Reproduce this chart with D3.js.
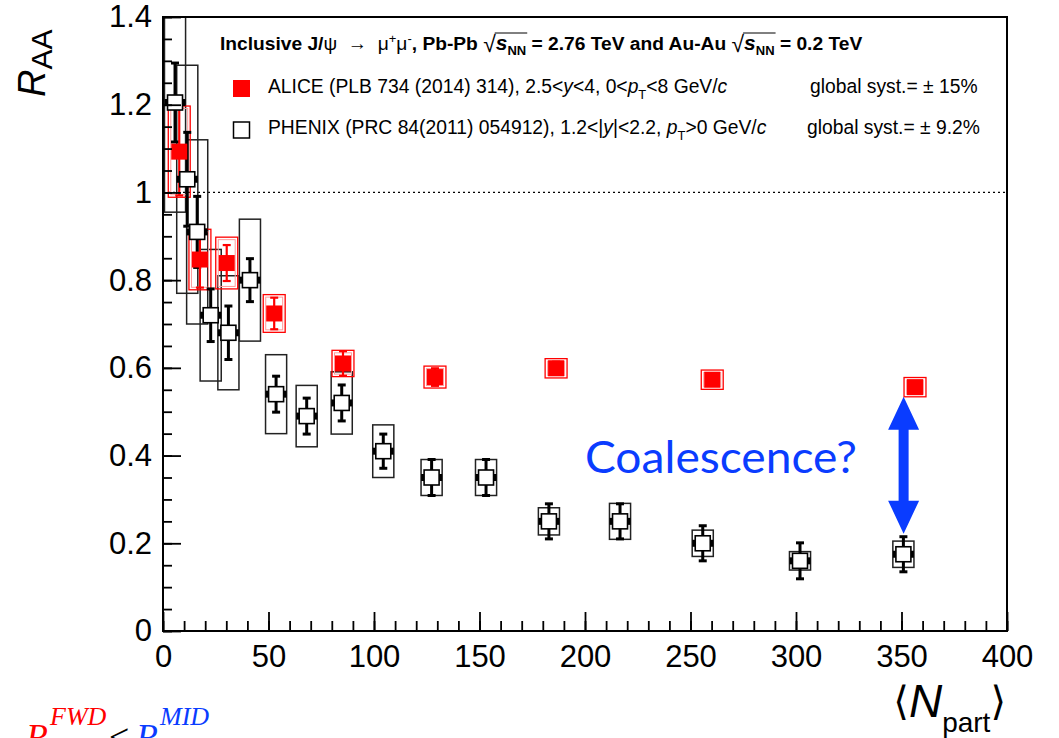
<!DOCTYPE html>
<html>
<head>
<meta charset="utf-8">
<script src="https://cdn.jsdelivr.net/npm/d3@7"></script>
<style>
  body { margin: 0; background: #fff; }
  text { white-space: pre; }
</style>
</head>
<body>
<svg id="chart" width="1059" height="738"></svg>
<script>
// ALICE, Pb-Pb 2.76 TeV, 2.5<y<4
const aliceNpart = [7.7, 17.5, 30.2, 52.7, 85.3, 128.9, 186.3, 260.3, 356.4];
const aliceRaa   = [1.093, 0.847, 0.839, 0.724, 0.610, 0.579, 0.599, 0.573, 0.556];
const aliceStat  = [0.100, 0.064, 0.041, 0.036, 0.028, 0.020, 0.015, 0.012, 0.012];
const aliceSyst  = [0.104, 0.069, 0.059, 0.043, 0.030, 0.025, 0.022, 0.022, 0.022];

// PHENIX, Au-Au 0.2 TeV, 1.2<|y|<2.2
const phenixNpart = [5.7, 11.5, 16.2, 22.6, 31.0, 41.2, 53.6, 68.1, 84.7, 104.4, 127.3, 153.1, 182.9, 216.6, 255.8, 301.9, 350.9];
const phenixRaa   = [1.205, 1.03, 0.91, 0.72, 0.68, 0.80, 0.54, 0.49, 0.52, 0.41, 0.35, 0.35, 0.25, 0.25, 0.20, 0.16, 0.175];
const phenixStat  = [0.09, 0.107, 0.081, 0.06, 0.061, 0.049, 0.041, 0.041, 0.041, 0.039, 0.041, 0.041, 0.04, 0.04, 0.04, 0.041, 0.04];
const phenixSyst  = [0.25, 0.26, 0.21, 0.15, 0.13, 0.139, 0.09, 0.07, 0.071, 0.06, 0.041, 0.041, 0.031, 0.041, 0.03, 0.021, 0.03];

const xTicks = [0, 50, 100, 150, 200, 250, 300, 350, 400];
const yTicks = [0, 0.2, 0.4, 0.6, 0.8, 1, 1.2, 1.4];

// annotation: gap between the two most central points
const arrowNpart = 351;
const arrowRange = [0.534, 0.222];

const svg = d3.select('#chart');
const pL = 163, pR = 1007, pT = 17, pB = 631;

const x = d3.scaleLinear().domain([0, 400]).range([pL, pR]);
const y = d3.scaleLinear().domain([0, 1.4]).range([pB, pT]);

const sans = '"Liberation Sans", Arial, Helvetica, sans-serif';
const RED = '#ff0000';
const BLUE = '#0a3cff';

// lay out a run of text pieces one after another
function richText(parent, x0, y0, parts, base) {
  let cx = x0;
  const pos = [];
  parts.forEach(p => {
    const el = parent.append('text')
      .attr('x', cx)
      .attr('y', y0 + (p.dy || 0))
      .attr('xml:space', 'preserve')
      .attr('font-family', p.family || base.family || sans)
      .attr('font-size', p.size || base.size)
      .attr('font-weight', p.weight || base.weight || 'normal')
      .attr('font-style', p.style || 'normal')
      .attr('fill', p.fill || base.fill || '#000')
      .text(p.t);
    const w = el.node().getComputedTextLength();
    pos.push({ x0: cx, x1: cx + w });
    cx += w + (p.kern || 0);
  });
  return pos;
}

svg.append('clipPath').attr('id', 'plot')
  .append('rect').attr('x', pL).attr('y', pT)
  .attr('width', pR - pL).attr('height', pB - pT);

// R = 1 reference
svg.append('line')
  .attr('x1', x(0)).attr('x2', x(400))
  .attr('y1', y(1)).attr('y2', y(1))
  .attr('stroke', '#000').attr('stroke-width', 1.2)
  .attr('stroke-dasharray', '2,3');

const plot = svg.append('g').attr('clip-path', 'url(#plot)');

const phenix = phenixNpart.map((n, i) => ({ n, r: phenixRaa[i], s: phenixStat[i], sy: phenixSyst[i] }));
const alice = aliceNpart.map((n, i) => ({ n, r: aliceRaa[i], s: aliceStat[i], sy: aliceSyst[i] }));

// PHENIX systematic boxes
plot.selectAll('rect.psys').data(phenix).enter().append('rect')
  .attr('class', 'psys')
  .attr('x', d => x(d.n - 5)).attr('width', d => x(d.n + 5) - x(d.n - 5))
  .attr('y', d => y(d.r + d.sy)).attr('height', d => y(d.r - d.sy) - y(d.r + d.sy))
  .attr('fill', 'none').attr('stroke', '#222').attr('stroke-width', 1.5);

// ALICE systematic boxes
plot.selectAll('rect.asys').data(alice).enter().append('rect')
  .attr('class', 'asys')
  .attr('x', d => x(d.n - 5.2)).attr('width', d => x(d.n + 5.2) - x(d.n - 5.2))
  .attr('y', d => y(d.r + d.sy)).attr('height', d => y(d.r - d.sy) - y(d.r + d.sy))
  .attr('fill', 'none').attr('stroke', RED).attr('stroke-width', 1.3);
plot.selectAll('rect.asys2').data(alice).enter().append('rect')
  .attr('class', 'asys2')
  .attr('x', d => x(d.n - 5.2) + 2.5).attr('width', d => x(d.n + 5.2) - x(d.n - 5.2) - 5)
  .attr('y', d => y(d.r + d.sy) + 2.5).attr('height', d => Math.max(1, y(d.r - d.sy) - y(d.r + d.sy) - 5))
  .attr('fill', 'none').attr('stroke', '#ff9a9a').attr('stroke-width', 1);

// error bars with caps
function errorBars(data, cls, color, sw, cap) {
  const g = plot.append('g').attr('class', cls);
  g.selectAll('line.bar').data(data).enter().append('line')
    .attr('x1', d => x(d.n)).attr('x2', d => x(d.n))
    .attr('y1', d => y(d.r + d.s)).attr('y2', d => y(d.r - d.s))
    .attr('stroke', color).attr('stroke-width', sw);
  g.selectAll('line.capt').data(data).enter().append('line')
    .attr('x1', d => x(d.n) - cap).attr('x2', d => x(d.n) + cap)
    .attr('y1', d => y(d.r + d.s)).attr('y2', d => y(d.r + d.s))
    .attr('stroke', color).attr('stroke-width', sw);
  g.selectAll('line.capb').data(data).enter().append('line')
    .attr('x1', d => x(d.n) - cap).attr('x2', d => x(d.n) + cap)
    .attr('y1', d => y(d.r - d.s)).attr('y2', d => y(d.r - d.s))
    .attr('stroke', color).attr('stroke-width', sw);
}
errorBars(phenix, 'perr', '#000', 3, 4);
errorBars(alice, 'aerr', RED, 2.2, 4);

// PHENIX open markers with small side ticks
const pm = 15;
plot.selectAll('rect.pside').data(phenix.flatMap(d => [{ d, s: -1 }, { d, s: 1 }])).enter().append('rect')
  .attr('class', 'pside')
  .attr('x', e => x(e.d.n) + e.s * (pm / 2 + 1.5) - 1.5).attr('width', 3)
  .attr('y', e => y(e.d.r) - 3.5).attr('height', 7)
  .attr('fill', '#000');
plot.selectAll('rect.pmark').data(phenix).enter().append('rect')
  .attr('class', 'pmark')
  .attr('x', d => x(d.n) - pm / 2).attr('y', d => y(d.r) - pm / 2)
  .attr('width', pm).attr('height', pm)
  .attr('fill', '#fff').attr('stroke', '#000').attr('stroke-width', 1.6);

// ALICE filled markers
const am = 16;
plot.selectAll('rect.amark').data(alice).enter().append('rect')
  .attr('class', 'amark')
  .attr('x', d => x(d.n) - am / 2).attr('y', d => y(d.r) - am / 2)
  .attr('width', am).attr('height', am)
  .attr('fill', RED);

// axes
const xAxis = svg.append('g').attr('transform', `translate(0,${pB})`)
  .call(d3.axisBottom(x).tickValues(xTicks).tickSizeInner(-19).tickSizeOuter(0).tickPadding(14).tickFormat(d3.format('d')));
const xMinor = svg.append('g').attr('transform', `translate(0,${pB})`)
  .call(d3.axisBottom(x).tickValues(d3.range(0, 401, 10)).tickSizeInner(-10).tickSizeOuter(0).tickFormat(''));
const yAxis = svg.append('g').attr('transform', `translate(${pL},0)`)
  .call(d3.axisLeft(y).tickValues(yTicks).tickSizeInner(-18).tickSizeOuter(0).tickPadding(11).tickFormat(d => String(+d.toFixed(1))));
const yMinor = svg.append('g').attr('transform', `translate(${pL},0)`)
  .call(d3.axisLeft(y).tickValues(d3.range(0, 29).map(i => i * 0.05)).tickSizeInner(-9).tickSizeOuter(0).tickFormat(''));

[xAxis, xMinor, yAxis, yMinor].forEach(a => {
  a.select('.domain').remove();
  a.selectAll('line').attr('stroke', '#000').attr('stroke-width', 1.8);
  a.selectAll('text').attr('font-family', sans).attr('font-size', 31).attr('fill', '#000');
});

// frame
svg.append('rect')
  .attr('x', pL).attr('y', pT).attr('width', pR - pL).attr('height', pB - pT)
  .attr('fill', 'none').attr('stroke', '#000').attr('stroke-width', 2);

// y title R_AA (rotated)
const yt = svg.append('g').attr('transform', 'translate(45,0) rotate(-90)');
richText(yt, -97, 0, [
  { t: 'R', size: 38, style: 'italic' },
  { t: 'AA', size: 30, dy: 7 }
], { size: 38 });

// x title <N_part>
const xt = svg.append('g');
const xtPos = richText(xt, 0, 717, [
  { t: '⟨', size: 40, family: '"DejaVu Sans", sans-serif', dy: -2 },
  { t: 'N', size: 46, style: 'italic' },
  { t: 'part', size: 28, dy: 15 },
  { t: '⟩', size: 40, family: '"DejaVu Sans", sans-serif', dy: -2 }
], { size: 46 });
xt.attr('transform', `translate(${1006 - xtPos[3].x1},0)`);

// header line
const hd = svg.append('g');
const hdBase = { size: 19.2, weight: 'bold' };
const hp = richText(hd, 220, 50, [
  { t: 'Inclusive J/' },
  { t: 'ψ', weight: 'normal' },
  { t: '  →  ', weight: 'normal' },
  { t: 'μ', weight: 'normal' },
  { t: '+', weight: 'normal', size: 13, dy: -7 },
  { t: 'μ', weight: 'normal' },
  { t: '-', weight: 'normal', size: 13, dy: -7 },
  { t: ', Pb-Pb ' },
  { t: '√', weight: 'normal', size: 23, dy: 2 },
  { t: 's', style: 'italic', size: 21 },
  { t: 'NN', size: 13, dy: 5 },
  { t: ' = 2.76 TeV and Au-Au ' },
  { t: '√', weight: 'normal', size: 23, dy: 2 },
  { t: 's', style: 'italic', size: 21 },
  { t: 'NN', size: 13, dy: 5 },
  { t: ' = 0.2 TeV' }
], hdBase);
[[8, 10], [12, 14]].forEach(([a, b]) => {
  hd.append('line')
    .attr('x1', hp[a].x1 - 1).attr('x2', hp[b].x1 + 1)
    .attr('y1', 33).attr('y2', 33)
    .attr('stroke', '#000').attr('stroke-width', 1);
});

// legend
const lg = svg.append('g');
lg.append('rect').attr('x', 233).attr('y', 80).attr('width', 17).attr('height', 17).attr('fill', RED);
lg.append('rect').attr('x', 233.5).attr('y', 122).attr('width', 16).attr('height', 16)
  .attr('fill', '#fff').attr('stroke', '#000').attr('stroke-width', 1.5);
const lgBase = { size: 19.3 };
richText(lg, 268, 93, [
  { t: 'ALICE (PLB 734 (2014) 314), 2.5<' },
  { t: 'y', style: 'italic' },
  { t: '<4, 0<' },
  { t: 'p', style: 'italic' },
  { t: 'T', size: 13, dy: 6 },
  { t: '<8 GeV/' },
  { t: 'c', style: 'italic' }
], lgBase);
richText(lg, 268, 134, [
  { t: 'PHENIX (PRC 84(2011) 054912), 1.2<|' },
  { t: 'y', style: 'italic' },
  { t: '|<2.2, ' },
  { t: 'p', style: 'italic' },
  { t: 'T', size: 13, dy: 6 },
  { t: '>0 GeV/' },
  { t: 'c', style: 'italic' }
], lgBase);
richText(lg, 810, 93, [{ t: 'global syst.= ± 15%' }], lgBase);
richText(lg, 807, 134, [{ t: 'global syst.= ± 9.2%' }], lgBase);

// annotation
svg.append('text')
  .attr('x', x(200)).attr('y', y(0.36))
  .attr('font-family', 'Lato, "Open Sans", sans-serif')
  .attr('font-size', 44)
  .attr('textLength', 272).attr('lengthAdjust', 'spacingAndGlyphs')
  .attr('fill', BLUE)
  .text('Coalescence?');

const ax = x(arrowNpart), ay1 = y(arrowRange[0]), ay2 = y(arrowRange[1]);
const hw = 15.5, hl = 33, sw = 5;
svg.append('path')
  .attr('d', `M${ax},${ay1} L${ax + hw},${ay1 + hl} L${ax + sw},${ay1 + hl} L${ax + sw},${ay2 - hl} L${ax + hw},${ay2 - hl} L${ax},${ay2} L${ax - hw},${ay2 - hl} L${ax - sw},${ay2 - hl} L${ax - sw},${ay1 + hl} L${ax - hw},${ay1 + hl} Z`)
  .attr('fill', BLUE);

// bottom-left formula (cut by the page edge, as in the source slide)
const serif = '"Liberation Serif", "Times New Roman", serif';
const fm = svg.append('g');
richText(fm, 26, 749, [
  { t: 'R', size: 36, style: 'italic', fill: RED, kern: 2 },
  { t: 'FWD', size: 26, style: 'italic', fill: RED, dy: -24 }
], { family: serif, size: 36 });
richText(fm, 109, 749, [{ t: '<', size: 36 }], { family: serif, size: 36 });
richText(fm, 136, 749, [
  { t: 'R', size: 36, style: 'italic', fill: BLUE, kern: 2 },
  { t: 'MID', size: 26, style: 'italic', fill: BLUE, dy: -24 }
], { family: serif, size: 36 });
</script>
</body>
</html>
